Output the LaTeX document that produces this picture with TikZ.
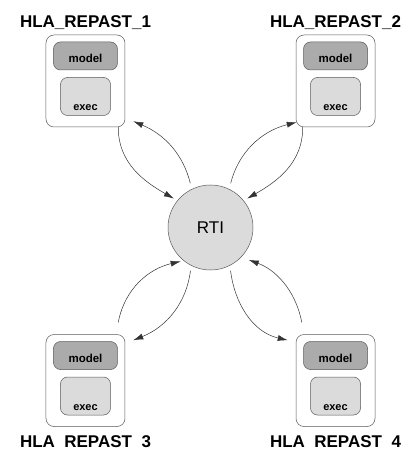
\documentclass[tikz,border=0pt]{standalone}
\usepackage{fontspec}
\setmainfont{Liberation Sans}
\usetikzlibrary{arrows.meta,positioning}
\definecolor{modelgray}{rgb}{0.67,0.67,0.67}
\definecolor{execgray}{rgb}{0.86,0.86,0.86}
\definecolor{linegray}{rgb}{0.35,0.35,0.35}

\begin{document}
\begin{tikzpicture}[x=1pt,y=1pt,line width=0.5pt]
	  \tikzstyle{fedbox}=[draw=linegray,fill=white,rounded corners=8pt,minimum width=79pt,minimum height=92pt]
	  \tikzstyle{modelbox}=[draw=linegray,fill=modelgray,rounded corners=7pt,minimum width=64pt,inner ysep=0pt,text height=21pt,text depth=7pt,font=\fontsize{11.5}{13}\selectfont\bfseries]
	  \tikzstyle{execbox}=[draw=linegray,fill=execgray,rounded corners=7pt,minimum width=50pt,inner ysep=0pt,text height=33pt,text depth=5pt,font=\fontsize{11}{13}\selectfont\bfseries]
	  \tikzstyle{fedname}=[font=\fontsize{17}{20}\selectfont\bfseries,anchor=base]
	  \tikzstyle{link}=[draw=black!80,-{Latex[length=10pt,width=6pt]}]

	  \useasboundingbox (-210.5,-232.5) rectangle (201.5,227.5);

	  \node[circle,draw=linegray,fill=execgray,minimum size=85pt,font=\fontsize{17}{20}\selectfont] (rti) at (0,0) {RTI};

	  % federates
	  \node[fedbox] (b1) at (-125,146.5) {};
	  \node[fedbox] (b2) at (125,146.5) {};
	  \node[fedbox] (b3) at (-125,-153) {};
	  \node[fedbox] (b4) at (125,-153) {};

	  \node[modelbox] (m1) [below=7pt of b1.north,anchor=north] {model};
	  \node[execbox] (e1) [below=7pt of m1] {exec};
	  \node[modelbox] (m2) [below=7pt of b2.north,anchor=north] {model};
	  \node[execbox] (e2) [below=7pt of m2] {exec};
	  \node[modelbox] (m3) [below=7pt of b3.north,anchor=north] {model};
	  \node[execbox] (e3) [below=7pt of m3] {exec};
	  \node[modelbox] (m4) [below=7pt of b4.north,anchor=north] {model};
	  \node[execbox] (e4) [below=7pt of m4] {exec};

	  \node[fedname] (n1) [above=7pt of b1.north,anchor=base] {HLA\_REPAST\_1};
	  \node[fedname] (n2) [above=7pt of b2.north,anchor=base] {HLA\_REPAST\_2};
	  \node[fedname] (n3) [below=21pt of b3.south,anchor=base] {HLA~~REPAST~~3};
	  \node[fedname] (n4) [below=21pt of b4.south,anchor=base] {HLA~~REPAST~~4};

	  % links to and from the RTI
	  \draw[link,shorten >=4pt] ([xshift=-7pt]b1.south east) to[out=-90,in=150] (rti.141);
	  \draw[link,shorten <=6pt] (rti.116) to[out=104,in=-23] ([xshift=8pt,yshift=6pt]b1.south east);

	  \draw[link,shorten >=4pt] ([xshift=7pt]b2.south west) to[out=-90,in=30] (rti.39);
	  \draw[link,shorten <=6pt] (rti.64) to[out=76,in=-166] ([xshift=1pt,yshift=5pt]b2.south west);

	  \draw[link,shorten >=3pt] ([xshift=-7pt,yshift=12pt]b3.north east) to[out=79,in=-167] (rti.231);
	  \draw[link,shorten <=5pt] (rti.243) to[out=-97,in=22] ([xshift=8pt,yshift=-6pt]b3.north east);

	  \draw[link,shorten <=5pt] (rti.297) to[out=-83,in=167] ([xshift=-8pt,yshift=-6pt]b4.north west);
	  \draw[link,shorten >=8pt] ([xshift=6pt,yshift=12pt]b4.north west) to[out=101,in=-20] (rti.316);
	\end{tikzpicture}
\end{document}
